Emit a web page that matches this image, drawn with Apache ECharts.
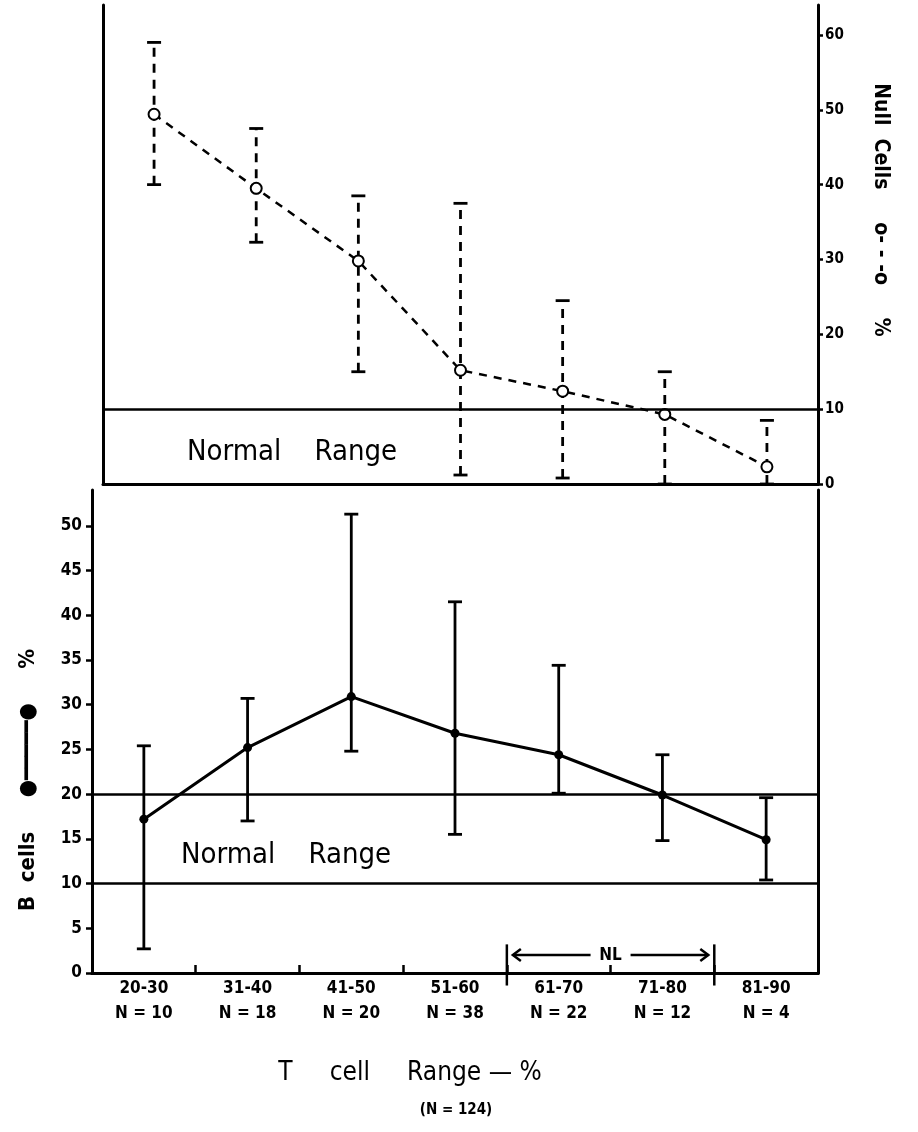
<!DOCTYPE html>
<html>
<head>
<meta charset="utf-8">
<script src="https://cdn.jsdelivr.net/npm/echarts@6/dist/echarts.min.js"></script>
<style>html,body{margin:0;background:#fff}#main{width:918px;height:1132px}</style>
</head>
<body>
<div id="main"></div>
<script>
// T cell ranges and group sizes
var categories = ['20-30', '31-40', '41-50', '51-60', '61-70', '71-80', '81-90'];
var groupN = ['N = 10', 'N = 18', 'N = 20', 'N = 38', 'N = 22', 'N = 12', 'N = 4'];

// Null cells % (top panel, dashed)
var nullMean = [49.4, 39.5, 29.8, 15.2, 12.4, 9.3, 2.3];
var nullHigh = [59, 47.5, 38.5, 37.5, 24.5, 15, 8.5];
var nullLow = [40, 32.3, 15, 1.2, 0.8, 0, 0];
var nullTicks = [0, 10, 20, 30, 40, 50, 60];
var nullNormal = [10];

// B cells % (bottom panel, solid)
var bMean = [17.2, 25.2, 30.9, 26.8, 24.4, 19.9, 14.9];
var bHigh = [25.4, 30.7, 51.3, 41.5, 34.4, 24.4, 19.6];
var bLow = [2.7, 17, 24.8, 15.5, 20.1, 14.8, 10.4];
var bTicks = [0, 5, 10, 15, 20, 25, 30, 35, 40, 45, 50];
var bNormal = [10, 20];

// normal T cell range
var nlRange = ['61-70', '71-80'];

var FONT = '"DejaVu Sans Condensed", "DejaVu Sans", sans-serif';
var myChart = echarts.init(document.getElementById('main'));

function errorBars(low, high, dashed, idx) {
  return {
    type: 'custom',
    xAxisIndex: idx,
    yAxisIndex: idx,
    encode: {x: 0, y: [1, 2]},
    data: categories.map(function (c, i) { return [i, low[i], high[i]]; }),
    renderItem: function (params, api) {
      var lo = api.coord([api.value(0), api.value(1)]);
      var hi = api.coord([api.value(0), api.value(2)]);
      var cap = 7;
      var capStyle = {stroke: '#000', lineWidth: 2.8};
      return {
        type: 'group',
        children: [
          {type: 'line', shape: {x1: lo[0], y1: lo[1], x2: hi[0], y2: hi[1]},
            style: {stroke: '#000', lineWidth: 2.8, lineDash: dashed ? [9, 7] : null}},
          {type: 'line', shape: {x1: hi[0] - cap, y1: hi[1], x2: hi[0] + cap, y2: hi[1]}, style: capStyle},
          {type: 'line', shape: {x1: lo[0] - cap, y1: lo[1], x2: lo[0] + cap, y2: lo[1]}, style: capStyle}
        ]
      };
    },
    z: 2
  };
}

var plain = {show: true, lineStyle: {color: '#000', width: 3}};

var option = {
  backgroundColor: '#fff',
  animation: false,
  textStyle: {fontFamily: FONT, color: '#000'},
  grid: [
    {left: 103, right: 100, top: 5, bottom: 648},
    {left: 92, right: 100, top: 490, bottom: 159}
  ],
  xAxis: [
    {gridIndex: 0, type: 'category', data: categories, axisLine: plain,
      axisTick: {show: false}, axisLabel: {show: false}},
    {gridIndex: 1, type: 'category', data: categories, axisLine: plain,
      axisTick: {show: true, inside: true, length: 8, lineStyle: {color: '#000', width: 2.5}},
      axisLabel: {
        color: '#000', fontSize: 17, fontWeight: 'bold', lineHeight: 25, margin: 3,
        formatter: function (v, i) { return v + '\n' + groupN[i]; }
      }},
    {gridIndex: 1, type: 'category', position: 'top', data: categories, axisLine: plain,
      axisTick: {show: false}, axisLabel: {show: false}},
    {gridIndex: 1, type: 'value', min: 0, max: 7, show: false}
  ],
  yAxis: [
    {gridIndex: 0, type: 'value', position: 'right', min: 0, max: 64, splitLine: {show: false},
      axisLine: plain,
      axisTick: {show: true, length: 5, customValues: nullTicks, lineStyle: {color: '#000', width: 2.5}},
      axisLabel: {customValues: nullTicks, color: '#000', fontSize: 15, fontWeight: 'bold', margin: 7}},
    {gridIndex: 1, type: 'value', min: 0, max: 54, splitLine: {show: false},
      axisLine: plain,
      axisTick: {show: true, length: 6, customValues: bTicks, lineStyle: {color: '#000', width: 2.5}},
      axisLabel: {customValues: bTicks, color: '#000', fontSize: 17, fontWeight: 'bold', margin: 10}},
    {gridIndex: 0, type: 'value', position: 'left', min: 0, max: 64, splitLine: {show: false},
      axisLine: plain, axisTick: {show: false}, axisLabel: {show: false}},
    {gridIndex: 1, type: 'value', position: 'right', min: 0, max: 54, splitLine: {show: false},
      axisLine: plain, axisTick: {show: false}, axisLabel: {show: false}}
  ],
  series: [
    errorBars(nullLow, nullHigh, true, 0),
    {
      type: 'line', xAxisIndex: 0, yAxisIndex: 0, data: nullMean,
      symbol: 'emptyCircle', symbolSize: 11,
      lineStyle: {color: '#000', width: 2.5, type: [8, 7]},
      itemStyle: {color: '#000', borderColor: '#000', borderWidth: 2.5},
      markLine: {
        silent: true, symbol: 'none', label: {show: false},
        lineStyle: {color: '#000', width: 2.5, type: 'solid'},
        data: nullNormal.map(function (v) { return {yAxis: v}; })
      },
      z: 3
    },
    errorBars(bLow, bHigh, false, 1),
    {
      type: 'line', xAxisIndex: 1, yAxisIndex: 1, data: bMean,
      symbol: 'circle', symbolSize: 9,
      lineStyle: {color: '#000', width: 3},
      itemStyle: {color: '#000'},
      markLine: {
        silent: true, symbol: 'none', label: {show: false},
        lineStyle: {color: '#000', width: 2.5, type: 'solid'},
        data: bNormal.map(function (v) { return {yAxis: v}; })
      },
      z: 3
    },
    {
      type: 'custom', xAxisIndex: 3, yAxisIndex: 1, clip: false,
      data: [[categories.indexOf(nlRange[0]), categories.indexOf(nlRange[1]) + 1]],
      renderItem: function (params, api) {
        var a = api.coord([api.value(0), 2]);
        var b = api.coord([api.value(1), 2]);
        var top = api.coord([api.value(0), 3.2])[1];
        var bot = api.coord([api.value(0), -1.4])[1];
        var y = a[1];
        var mid = (a[0] + b[0]) / 2;
        var s = {stroke: '#000', lineWidth: 2.5, fill: null};
        return {
          type: 'group',
          children: [
            {type: 'line', shape: {x1: a[0], y1: top, x2: a[0], y2: bot}, style: s},
            {type: 'line', shape: {x1: b[0], y1: top, x2: b[0], y2: bot}, style: s},
            {type: 'line', shape: {x1: a[0] + 6, y1: y, x2: mid - 20, y2: y}, style: s},
            {type: 'line', shape: {x1: mid + 20, y1: y, x2: b[0] - 6, y2: y}, style: s},
            {type: 'polyline', shape: {points: [[a[0] + 14, y - 6], [a[0] + 6, y], [a[0] + 14, y + 6]]}, style: s},
            {type: 'polyline', shape: {points: [[b[0] - 14, y - 6], [b[0] - 6, y], [b[0] - 14, y + 6]]}, style: s},
            {type: 'text', x: mid, y: y, style: {text: 'NL', fontSize: 17, fontWeight: 'bold',
              fontFamily: FONT, fill: '#000', align: 'center', verticalAlign: 'middle'}}
          ]
        };
      }
    }
  ],
  graphic: [
    {type: 'text', x: 187, y: 452,
      style: {text: 'Normal    Range', fontSize: 29, fontFamily: FONT, fill: '#000', verticalAlign: 'middle'}},
    {type: 'text', x: 181, y: 855,
      style: {text: 'Normal    Range', fontSize: 29, fontFamily: FONT, fill: '#000', verticalAlign: 'middle'}},
    {type: 'text', x: 880, y: 210, rotation: -Math.PI / 2,
      style: {text: 'Null  Cells     o- - -o     %', fontSize: 21, fontWeight: 'bold', fontFamily: FONT,
        fill: '#000', align: 'center', verticalAlign: 'middle'}},
    {type: 'text', x: 28, y: 780, rotation: Math.PI / 2,
      style: {text: 'B  cells     ●━━━━━●     %', fontSize: 22, fontWeight: 'bold', fontFamily: FONT,
        fill: '#000', align: 'center', verticalAlign: 'middle'}},
    {type: 'text', x: 410, y: 1073,
      style: {text: 'T     cell     Range — %', fontSize: 26, fontFamily: FONT,
        fill: '#000', align: 'center', verticalAlign: 'middle'}},
    {type: 'text', x: 456, y: 1110,
      style: {text: '(N = 124)', fontSize: 15, fontWeight: 'bold', fontFamily: FONT,
        fill: '#000', align: 'center', verticalAlign: 'middle'}}
  ]
};

myChart.setOption(option);
</script>
</body>
</html>
